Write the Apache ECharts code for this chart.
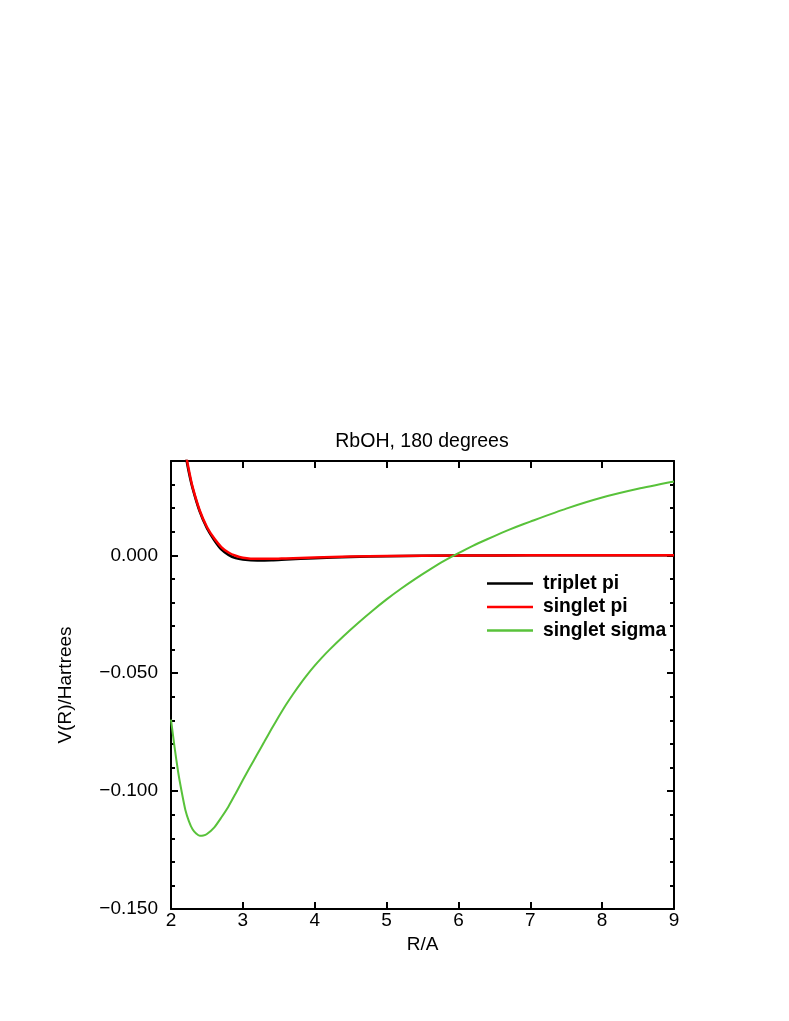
<!DOCTYPE html>
<html>
<head>
<meta charset="utf-8">
<script src="https://cdn.jsdelivr.net/npm/echarts@6/dist/echarts.min.js"></script>
<style>html,body{margin:0;padding:0;background:#fff;}#c{width:789px;height:1021px;}</style>
</head>
<body>
<div id="c"></div>
<script>
const titleText = 'RbOH, 180 degrees';
const xName = 'R/A';
const yName = 'V(R)/Hartrees';
const seriesNames = ['triplet pi', 'singlet pi', 'singlet sigma'];

const tripletR = [2.2, 2.25, 2.3, 2.4, 2.5, 2.6, 2.7, 2.8, 2.9, 3.0, 3.2, 3.4, 3.6, 4.0, 4.5, 5.0, 6.0, 7.0, 8.0, 9.0];
const tripletV = [0.043, 0.035, 0.0285, 0.0185, 0.0115, 0.0065, 0.0025, 0.0002, -0.0012, -0.0018, -0.0022, -0.0021, -0.0018, -0.0012, -0.0007, -0.0004, -0.0001, 0.0, 0.0, 0.0];

const singletPiR = [2.2, 2.25, 2.3, 2.4, 2.5, 2.6, 2.7, 2.8, 2.9, 3.0, 3.2, 3.4, 3.6, 4.0, 4.5, 5.0, 6.0, 7.0, 8.0, 9.0];
const singletPiV = [0.044, 0.036, 0.029, 0.019, 0.012, 0.0072, 0.0035, 0.0012, -0.0002, -0.0010, -0.0015, -0.0015, -0.0013, -0.0009, -0.0005, -0.0003, -0.0001, 0.0, 0.0, 0.0];

const sigmaR = [2.0, 2.05, 2.1, 2.15, 2.2, 2.25, 2.3, 2.35, 2.4, 2.45, 2.5, 2.6, 2.7, 2.8, 2.9, 3.0, 3.1, 3.2, 3.3, 3.4, 3.5, 3.6, 3.7, 3.8, 3.9, 4.0, 4.1, 4.2, 4.4, 4.6, 4.8, 5.0, 5.2, 5.4, 5.6, 5.8, 6.0, 6.2, 6.4, 6.6, 6.8, 7.0, 7.5, 8.0, 8.5, 9.0];
const sigmaV = [-0.0697, -0.0815, -0.092, -0.1005, -0.108, -0.1128, -0.1162, -0.1180, -0.1189, -0.1188, -0.1182, -0.1155, -0.1112, -0.1065, -0.1010, -0.0953, -0.0898, -0.0844, -0.0790, -0.0736, -0.0684, -0.0634, -0.0588, -0.0545, -0.0505, -0.0468, -0.0434, -0.0402, -0.0343, -0.0288, -0.0236, -0.0187, -0.0142, -0.0100, -0.0061, -0.0024, 0.0009, 0.0040, 0.0068, 0.0095, 0.0120, 0.0143, 0.0198, 0.0245, 0.0282, 0.0313];

const yTickLabels = ['\u22120.150', '\u22120.100', '\u22120.050', '0.000'];
const yTickValues = [-0.15, -0.10, -0.05, 0.0];

function pairs(xs, ys) { return xs.map((x, i) => [x, ys[i]]); }

const FONT = 'Liberation Sans, Arial, Helvetica, sans-serif';
const axisLine = { show: true, onZero: false, lineStyle: { color: '#000', width: 2 } };
const tick = { show: true, inside: true, length: 7, lineStyle: { color: '#000', width: 2 } };
const minor = { show: true, splitNumber: 5, length: 4, lineStyle: { color: '#000', width: 2 } };

const chart = echarts.init(document.getElementById('c'), null, { renderer: 'canvas' });
chart.setOption({
  backgroundColor: '#fff',
  animation: false,
  title: {
    text: titleText,
    left: 417,
    textAlign: 'center',
    top: 427,
    textStyle: { fontFamily: FONT, fontSize: 19.5, fontWeight: 'normal', color: '#000' }
  },
  grid: { left: 171, right: 115, top: 461, bottom: 112, containLabel: false },
  legend: {
    orient: 'vertical',
    left: 487,
    top: 574,
    padding: 0,
    itemWidth: 46,
    itemHeight: 2.5,
    itemGap: 4.5,
    icon: 'rect',
    data: seriesNames.map(n => ({ name: n })),
    textStyle: { fontFamily: FONT, fontSize: 19.3, fontWeight: 'bold', color: '#000', padding: [0, 0, 0, 5] }
  },
  xAxis: [{
    type: 'value', min: 2, max: 9, interval: 1, position: 'bottom',
    name: xName, nameLocation: 'middle', nameGap: 26,
    nameTextStyle: { fontFamily: FONT, fontSize: 19, color: '#000' },
    axisLine, axisTick: tick,
    axisLabel: { show: true, margin: 2, fontFamily: FONT, fontSize: 19, color: '#000', showMinLabel: true, showMaxLabel: true },
    splitLine: { show: false }
  }, {
    type: 'value', min: 2, max: 9, interval: 1, position: 'top',
    axisLine, axisTick: tick, axisLabel: { show: false }, splitLine: { show: false }
  }],
  yAxis: [{
    type: 'value', min: -0.15, max: 0.04, interval: 0.05, position: 'left',
    name: yName, nameLocation: 'middle', nameGap: 96, nameRotate: 90,
    nameTextStyle: { fontFamily: FONT, fontSize: 19, color: '#000' },
    axisLine, axisTick: tick, minorTick: minor,
    axisLabel: {
      show: true, margin: 13, fontFamily: FONT, fontSize: 19, color: '#000',
      formatter: function (v) {
        for (let i = 0; i < yTickValues.length; i++) {
          if (Math.abs(v - yTickValues[i]) < 1e-9) return yTickLabels[i];
        }
        return '';
      }
    },
    splitLine: { show: false }, minorSplitLine: { show: false }
  }, {
    type: 'value', min: -0.15, max: 0.04, interval: 0.05, position: 'right',
    axisLine, axisTick: tick, minorTick: minor,
    axisLabel: { show: false }, splitLine: { show: false }
  }],
  series: [{
    name: seriesNames[0], type: 'line', data: pairs(tripletR, tripletV),
    symbol: 'none', smooth: 0.3, clip: true,
    lineStyle: { color: '#000', width: 2.5 }, itemStyle: { color: '#000' }
  }, {
    name: seriesNames[1], type: 'line', data: pairs(singletPiR, singletPiV),
    symbol: 'none', smooth: 0.3, clip: true,
    lineStyle: { color: '#ff0000', width: 2.5 }, itemStyle: { color: '#ff0000' }
  }, {
    name: seriesNames[2], type: 'line', data: pairs(sigmaR, sigmaV),
    symbol: 'none', smooth: 0.2, clip: true,
    lineStyle: { color: '#58c23a', width: 2 }, itemStyle: { color: '#58c23a' }
  }]
});
</script>
</body>
</html>
